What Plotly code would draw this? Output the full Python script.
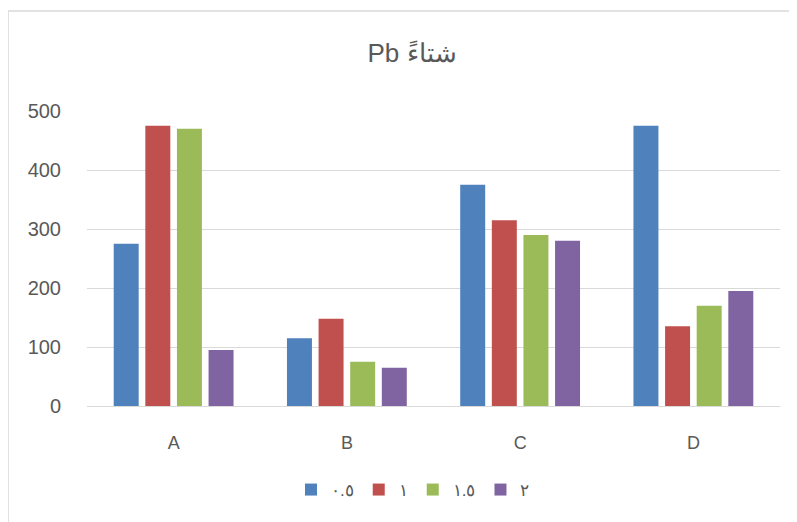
import plotly.graph_objects as go

categories = ["A", "B", "C", "D"]
series_names = ["٠.٥", "١", "١.٥", "٢"]
values_05 = [275, 115, 375, 475]
values_1 = [475, 148, 315, 135]
values_15 = [470, 75, 290, 170]
values_2 = [95, 65, 280, 195]
colors = ["#4F81BD", "#C0504D", "#9BBB59", "#8064A2"]
y_ticks = [0, 100, 200, 300, 400, 500]

W, H = 797, 522
OFF = 8  # page body offset
L, R, T, B = 87 - OFF, 17 + OFF, 111 - OFF, 116 + OFF
pw, ph = W - L - R, H - T - B

fig = go.Figure()
for name, vals, col in zip(series_names, [values_05, values_1, values_15, values_2], colors):
    fig.add_trace(go.Bar(x=categories, y=vals, name=name, marker=dict(color=col, line=dict(width=0))))

font = "Liberation Sans, Arial, sans-serif"
fig.update_layout(
    width=W, height=H,
    margin=dict(l=L, r=R, t=T, b=B),
    paper_bgcolor="white", plot_bgcolor="white",
    barmode="group", bargap=0.27, bargroupgap=0.21,
    title=dict(text="Pb شتاءً", x=(412 - OFF) / W, xanchor="center", xref="container",
               y=1 - (53 - OFF) / H, yanchor="middle",
               font=dict(family=font, size=26, color="#595959")),
    font=dict(family=font, color="#595959"),
    xaxis=dict(showgrid=False, showline=True, linecolor="#D9D9D9", linewidth=1,
               tickfont=dict(size=18, color="#595959"),
               ticks="outside", ticklen=20, tickcolor="rgba(0,0,0,0)"),
    yaxis=dict(range=[0, 500], tickvals=y_ticks, showgrid=True, gridcolor="#D9D9D9", gridwidth=1,
               zeroline=False, showline=False, tickfont=dict(size=20, color="#595959"),
               ticks="outside", ticklen=21, tickcolor="rgba(0,0,0,0)"),
    legend=dict(orientation="h", x=(413 - OFF) / W, xref="container", xanchor="center",
                y=1 - (490 - OFF) / H, yref="container", yanchor="middle",
                font=dict(size=17, color="#595959"), traceorder="normal",
                itemwidth=30),
    shapes=[dict(type="rect", xref="paper", yref="paper",
                 x0=(0 - L) / pw, x1=(W + 20 - L) / pw,
                 y0=(H - B - (H + 20)) / ph, y1=(H - B - 3) / ph,
                 line=dict(color="#D9D9D9", width=1.5), fillcolor="rgba(0,0,0,0)", layer="below")],
)

fig.write_html("out.html")
